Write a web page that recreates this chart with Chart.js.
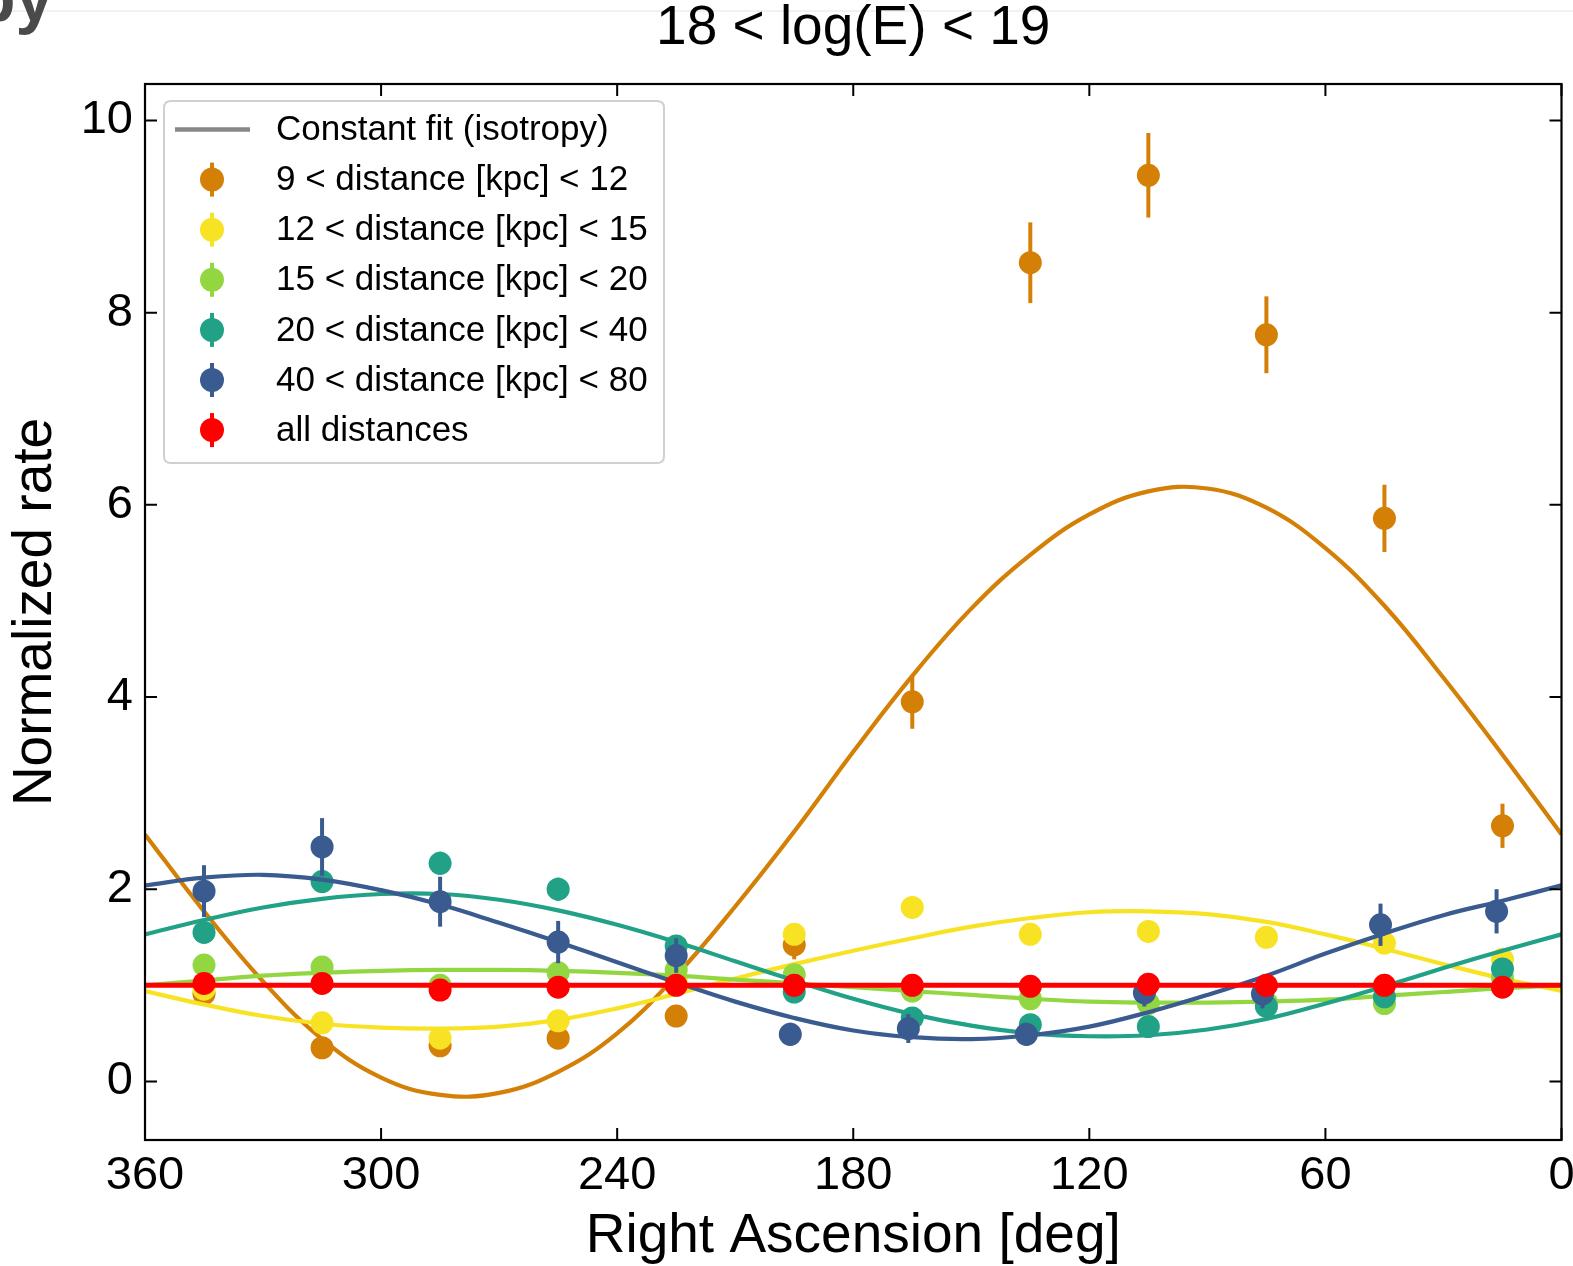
<!DOCTYPE html>
<html>
<head>
<meta charset="utf-8">
<script src="https://cdn.jsdelivr.net/npm/chart.js@4.4.1/dist/chart.umd.min.js"></script>
<style>
html,body{margin:0;padding:0;background:#fff;overflow:hidden}
canvas{display:block}
</style>
</head>
<body>
<canvas id="c" width="1573" height="1266"></canvas>
<script>
// ---------- data ----------
const titleText = '18 < log(E) < 19';
const xTitle = 'Right Ascension [deg]';
const yTitle = 'Normalized rate';
const xTicks = [360, 300, 240, 180, 120, 60, 0];
const yTicks = [0, 2, 4, 6, 8, 10];

// bin centres (RA, deg)
const raBins = [345, 315, 285, 255, 225, 195, 165, 135, 105, 75, 45, 15];
const blueRA = [345, 315, 285, 255, 225, 196, 166, 136, 106, 76, 46, 16.5];

const labels = ['9 < distance [kpc] < 12', '12 < distance [kpc] < 15', '15 < distance [kpc] < 20',
                '20 < distance [kpc] < 40', '40 < distance [kpc] < 80', 'all distances'];
const constLabel = 'Constant fit (isotropy)';

const orangeY   = [0.91, 0.35, 0.37, 0.45, 0.68, 1.42, 3.95, 8.52, 9.43, 7.77, 5.86, 2.66];
const orangeErr = [0.10, 0.10, 0.10, 0.10, 0.10, 0.15, 0.28, 0.42, 0.44, 0.40, 0.35, 0.23];
const yellowY   = [0.96, 0.61, 0.45, 0.63, 1.05, 1.53, 1.81, 1.53, 1.56, 1.50, 1.44, 1.27];
const yellowErr = [0.08, 0.08, 0.08, 0.08, 0.08, 0.10, 0.10, 0.10, 0.10, 0.10, 0.10, 0.08];
const greenY    = [1.21, 1.19, 1.00, 1.13, 1.16, 1.11, 0.94, 0.86, 0.81, 0.82, 0.81, 1.08];
const greenErr  = [0.08, 0.08, 0.08, 0.08, 0.08, 0.08, 0.08, 0.08, 0.08, 0.08, 0.08, 0.08];
const tealY     = [1.55, 2.08, 2.27, 2.00, 1.41, 0.93, 0.66, 0.59, 0.57, 0.78, 0.88, 1.17];
const tealErr   = [0.10, 0.12, 0.12, 0.12, 0.10, 0.08, 0.08, 0.08, 0.08, 0.08, 0.08, 0.10];
const blueY     = [1.98, 2.44, 1.87, 1.45, 1.31, 0.49, 0.55, 0.49, 0.92, 0.91, 1.63, 1.77];
const blueErr   = [0.27, 0.30, 0.26, 0.22, 0.18, 0.12, 0.15, 0.12, 0.14, 0.15, 0.22, 0.23];
const redY      = [1.02, 1.02, 0.95, 0.98, 1.00, 1.00, 1.00, 0.99, 1.01, 1.00, 1.00, 0.98];
const redErr    = [0.04, 0.04, 0.04, 0.04, 0.04, 0.04, 0.04, 0.04, 0.04, 0.04, 0.04, 0.04];

// fitted curves, every 15 deg
const raFit     = [360, 345, 330, 315, 300, 285, 270, 255, 240, 225, 210, 195, 180, 165, 150, 135, 120, 105, 90, 75, 60, 45, 30, 15, 0];
const orangeFit = [2.57, 1.77, 1.04, 0.44, 0.04, -0.14, -0.12, 0.10, 0.50, 1.10, 1.82, 2.60, 3.43, 4.22, 4.92, 5.48, 5.90, 6.14, 6.17, 5.97, 5.55, 4.95, 4.20, 3.40, 2.57];
const yellowFit = [0.94, 0.80, 0.68, 0.60, 0.56, 0.55, 0.57, 0.64, 0.76, 0.91, 1.07, 1.22, 1.36, 1.49, 1.61, 1.70, 1.76, 1.77, 1.74, 1.66, 1.53, 1.38, 1.22, 1.07, 0.94];
const greenFit  = [1.00, 1.05, 1.10, 1.13, 1.15, 1.16, 1.16, 1.15, 1.13, 1.10, 1.06, 1.02, 0.98, 0.94, 0.90, 0.86, 0.83, 0.82, 0.82, 0.83, 0.85, 0.89, 0.93, 0.97, 1.00];
const tealFit   = [1.53, 1.68, 1.81, 1.90, 1.95, 1.95, 1.89, 1.78, 1.63, 1.45, 1.25, 1.05, 0.86, 0.70, 0.58, 0.50, 0.47, 0.48, 0.54, 0.65, 0.81, 0.99, 1.18, 1.36, 1.53];
const blueFit   = [2.04, 2.12, 2.15, 2.10, 1.99, 1.84, 1.65, 1.45, 1.24, 1.03, 0.83, 0.66, 0.53, 0.46, 0.44, 0.48, 0.57, 0.72, 0.90, 1.10, 1.33, 1.54, 1.73, 1.88, 2.04];
const constRA   = [360, 0];
const constY    = [1.0, 1.0];

const colors = ['#d47f06', '#f7e324', '#92d742', '#21a286', '#3a5b8f', '#ff0000'];
const constLegendColor = '#888888';
const FONT = "'Liberation Sans', Arial, Helvetica, sans-serif";

// ---------- build datasets ----------
const zip = (xs, ys) => xs.map((x, i) => ({x: x, y: ys[i]}));
const series = [
  {x: raBins, y: orangeY, err: orangeErr, fit: orangeFit},
  {x: raBins, y: yellowY, err: yellowErr, fit: yellowFit},
  {x: raBins, y: greenY,  err: greenErr,  fit: greenFit},
  {x: raBins, y: tealY,   err: tealErr,   fit: tealFit},
  {x: blueRA, y: blueY,   err: blueErr,   fit: blueFit},
  {x: raBins, y: redY,    err: redErr,    fitX: constRA, fit: constY}
];

const datasets = [];
let ord = 100;
series.forEach((s, i) => {
  datasets.push({
    type: 'scatter', label: labels[i], data: zip(s.x, s.y), errors: s.err,
    backgroundColor: colors[i], borderWidth: 0, pointRadius: 11.5, pointHoverRadius: 11.5,
    order: ord--
  });
  datasets.push({
    type: 'line', label: labels[i] + ' fit', data: zip(s.fitX || raFit, s.fit),
    borderColor: colors[i], borderWidth: i === 5 ? 5 : 4.2, pointRadius: 0,
    tension: i === 5 ? 0 : 0.4, fill: false, order: ord--
  });
});

// ---------- plugins ----------
const errorBars = {
  id: 'errorBars',
  beforeDatasetDraw(chart, args) {
    const ds = chart.data.datasets[args.index];
    if (!ds.errors) return;
    const {ctx} = chart; const xs = chart.scales.x, ys = chart.scales.y;
    ctx.save();
    ctx.strokeStyle = ds.backgroundColor; ctx.lineWidth = 4; ctx.lineCap = 'butt';
    ds.data.forEach((p, i) => {
      const e = ds.errors[i];
      const px = xs.getPixelForValue(p.x);
      ctx.beginPath();
      ctx.moveTo(px, ys.getPixelForValue(p.y - e));
      ctx.lineTo(px, ys.getPixelForValue(p.y + e));
      ctx.stroke();
    });
    ctx.restore();
  }
};

const frame = {
  id: 'frame',
  beforeDraw(chart) {
    const ctx = chart.ctx;
    ctx.save();
    ctx.fillStyle = '#ffffff';
    ctx.fillRect(0, 0, chart.width, chart.height);
    // page remnants above the figure
    ctx.fillStyle = '#f1f1f1';
    ctx.fillRect(0, 10, chart.width, 2);
    ctx.fillStyle = '#4a4a4a';
    ctx.font = "bold 68px 'Liberation Sans', Arial, sans-serif";
    ctx.textBaseline = 'alphabetic';
    ctx.textAlign = 'left';
    ctx.fillText('py', -26, 21);
    ctx.restore();
  },
  afterDatasetsDraw(chart) {
    const {ctx, chartArea: a} = chart;
    const xs = chart.scales.x, ys = chart.scales.y;
    ctx.save();
    // spines
    ctx.strokeStyle = '#000'; ctx.lineWidth = 2.2;
    ctx.strokeRect(a.left, a.top, a.right - a.left, a.bottom - a.top);
    // inward ticks on all four sides
    const tl = 12;
    ctx.lineWidth = 2;
    ctx.beginPath();
    xTicks.forEach(v => {
      const px = xs.getPixelForValue(v);
      ctx.moveTo(px, a.bottom); ctx.lineTo(px, a.bottom - tl);
      ctx.moveTo(px, a.top); ctx.lineTo(px, a.top + tl);
    });
    yTicks.forEach(v => {
      const py = ys.getPixelForValue(v);
      ctx.moveTo(a.left, py); ctx.lineTo(a.left + tl, py);
      ctx.moveTo(a.right, py); ctx.lineTo(a.right - tl, py);
    });
    ctx.stroke();

    // legend
    const L = 164, T = 101, W = 500, H = 362, r = 7;
    ctx.beginPath();
    ctx.moveTo(L + r, T); ctx.lineTo(L + W - r, T); ctx.quadraticCurveTo(L + W, T, L + W, T + r);
    ctx.lineTo(L + W, T + H - r); ctx.quadraticCurveTo(L + W, T + H, L + W - r, T + H);
    ctx.lineTo(L + r, T + H); ctx.quadraticCurveTo(L, T + H, L, T + H - r);
    ctx.lineTo(L, T + r); ctx.quadraticCurveTo(L, T, L + r, T);
    ctx.closePath();
    ctx.fillStyle = 'rgba(255,255,255,0.8)'; ctx.fill();
    ctx.strokeStyle = '#d0d0d0'; ctx.lineWidth = 2; ctx.stroke();

    ctx.font = '35px ' + FONT;
    ctx.textAlign = 'left'; ctx.textBaseline = 'middle';
    const rowY = i => 129.5 + i * 50.1;
    // constant fit entry
    ctx.strokeStyle = constLegendColor; ctx.lineWidth = 4.5;
    ctx.beginPath(); ctx.moveTo(175, rowY(0)); ctx.lineTo(250, rowY(0)); ctx.stroke();
    ctx.fillStyle = '#000'; ctx.fillText(constLabel, 276, rowY(0) + 1);
    labels.forEach((lab, i) => {
      const yy = rowY(i + 1);
      ctx.strokeStyle = colors[i]; ctx.lineWidth = 4;
      ctx.beginPath(); ctx.moveTo(212, yy - 17); ctx.lineTo(212, yy + 17); ctx.stroke();
      ctx.fillStyle = colors[i];
      ctx.beginPath(); ctx.arc(212, yy, 12, 0, Math.PI * 2); ctx.fill();
      ctx.fillStyle = '#000'; ctx.fillText(lab, 276, yy + 1);
    });
    ctx.restore();
  }
};

Chart.defaults.font.family = FONT;
Chart.defaults.color = '#000';

new Chart(document.getElementById('c'), {
  type: 'scatter',
  data: {datasets: datasets},
  options: {
    responsive: false, animation: false, devicePixelRatio: 1,
    events: [],
    layout: {padding: {top: 0, left: 0, right: 11, bottom: 0}},
    plugins: {
      legend: {display: false}, tooltip: {enabled: false},
      title: {display: true, text: titleText, fullSize: false, color: '#000',
              font: {family: FONT, size: 55, weight: 'normal', lineHeight: 1.0},
              padding: {top: 1.5, bottom: 27.5}}
    },
    scales: {
      x: {
        type: 'linear', reverse: true, min: 0, max: 360,
        grid: {display: false, drawTicks: false}, border: {display: false},
        ticks: {font: {size: 47}, color: '#000', padding: 8, maxRotation: 0, autoSkip: false,
                callback: v => String(v)},
        afterBuildTicks: s => { s.ticks = xTicks.map(v => ({value: v})); },
        afterFit: s => { s.height = 126; s.paddingLeft = 0; s.paddingRight = 0; },
        title: {display: true, text: xTitle, color: '#000',
                font: {size: 55, lineHeight: 1.0}, padding: {top: 0, bottom: 1.5}}
      },
      y: {
        type: 'linear', min: -0.61, max: 10.38,
        grid: {display: false, drawTicks: false}, border: {display: false},
        ticks: {font: {size: 47}, color: '#000', padding: 12, autoSkip: false,
                callback: v => String(v)},
        afterBuildTicks: s => { s.ticks = yTicks.map(v => ({value: v})); },
        afterFit: s => { s.width = 145; },
        title: {display: true, text: yTitle, color: '#000',
                font: {size: 55, lineHeight: 1.0}, padding: {top: 8.5, bottom: 0}}
      }
    }
  },
  plugins: [errorBars, frame]
});
</script>
</body>
</html>
